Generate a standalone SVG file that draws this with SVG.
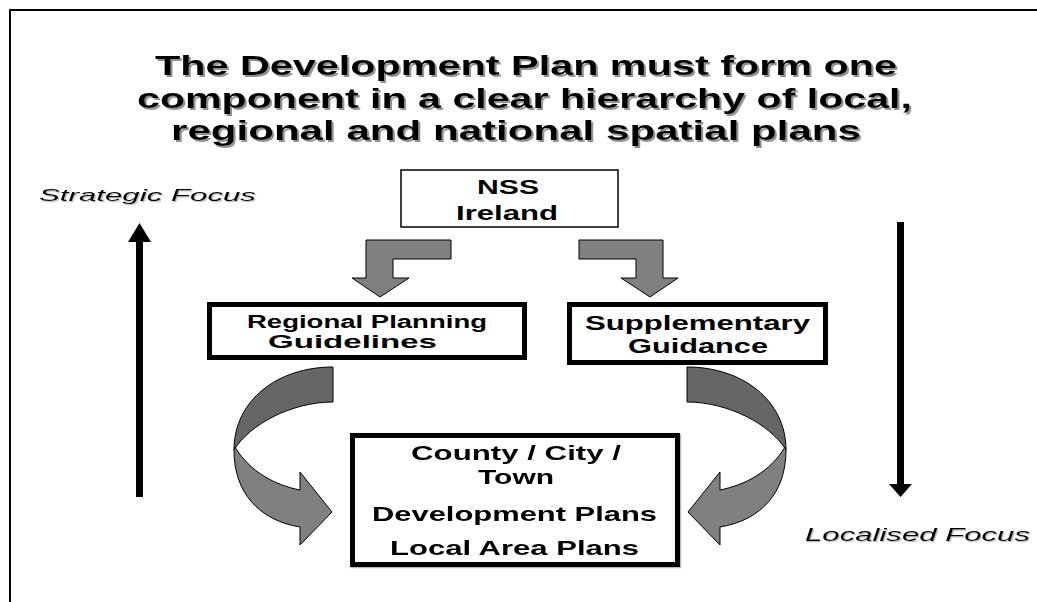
<svg xmlns="http://www.w3.org/2000/svg" width="1037" height="602" viewBox="0 0 1037 602">
<style>
.t{font-family:"Liberation Sans",Arial,sans-serif;font-weight:bold;fill:#000}
.i{font-family:"Liberation Sans",Arial,sans-serif;font-style:italic;fill:#000}
.box{fill:#fff;stroke:#000;stroke-width:5}
.bent{fill:#808080;stroke:#000;stroke-width:1}
.dk{fill:#666;stroke:#000;stroke-width:1}
.lt{fill:#808080;stroke:#000;stroke-width:1}
</style>
<defs>
<filter id="sh" x="-5%" y="-20%" width="110%" height="150%">
<feDropShadow dx="2" dy="2" stdDeviation="0.6" flood-color="#777" flood-opacity="0.8"/>
</filter>
<filter id="sh2" x="-5%" y="-20%" width="110%" height="150%">
<feDropShadow dx="1.2" dy="1.2" stdDeviation="0.5" flood-color="#999" flood-opacity="0.7"/>
</filter>
</defs>
<rect width="1037" height="602" fill="#fff"/>
<path d="M10,602 V10 H1037" fill="none" stroke="#000" stroke-width="2"/>
<g id="title" filter="url(#sh)">
<text class="t" font-size="28" x="155" y="75" textLength="742" lengthAdjust="spacingAndGlyphs">The Development Plan must form one</text>
<text class="t" font-size="28" x="137" y="108" textLength="775" lengthAdjust="spacingAndGlyphs">component in a clear hierarchy of local,</text>
<text class="t" font-size="28" x="171" y="140" textLength="690" lengthAdjust="spacingAndGlyphs">regional and national spatial plans</text>
</g>
<g id="strategic" filter="url(#sh2)">
<text class="i" font-size="17" x="39" y="201" textLength="217" lengthAdjust="spacingAndGlyphs">Strategic Focus</text>
</g>
<g id="localised" filter="url(#sh2)">
<text class="i" font-size="18" x="805" y="541" textLength="225" lengthAdjust="spacingAndGlyphs">Localised Focus</text>
</g>
<g id="nss">
<rect x="401" y="170" width="217" height="57" fill="#fff" stroke="#000" stroke-width="1.5"/>
<text class="t" font-size="20" x="477" y="194" textLength="62" lengthAdjust="spacingAndGlyphs">NSS</text>
<text class="t" font-size="20" x="456" y="220" textLength="102" lengthAdjust="spacingAndGlyphs">Ireland</text>
</g>
<g id="regional">
<rect class="box" x="209.5" y="304.5" width="315" height="53"/>
<text class="t" font-size="18" x="247" y="328" textLength="240" lengthAdjust="spacingAndGlyphs">Regional Planning</text>
<text class="t" font-size="18" x="268" y="348" textLength="169" lengthAdjust="spacingAndGlyphs">Guidelines</text>
</g>
<g id="supplementary">
<rect class="box" x="569.5" y="304.5" width="256" height="58"/>
<text class="t" font-size="20" x="585" y="330" textLength="225" lengthAdjust="spacingAndGlyphs">Supplementary</text>
<text class="t" font-size="20" x="628" y="353" textLength="140" lengthAdjust="spacingAndGlyphs">Guidance</text>
</g>
<g id="county" filter="url(#sh2)">
<rect class="box" x="352.5" y="435.5" width="325" height="129"/>
<text class="t" font-size="21" x="411" y="460" textLength="210" lengthAdjust="spacingAndGlyphs">County / City /</text>
<text class="t" font-size="21" x="478" y="484" textLength="76" lengthAdjust="spacingAndGlyphs">Town</text>
<text class="t" font-size="21" x="372" y="521" textLength="285" lengthAdjust="spacingAndGlyphs">Development Plans</text>
<text class="t" font-size="21" x="390" y="555" textLength="249" lengthAdjust="spacingAndGlyphs">Local Area Plans</text>
</g>
<g id="connectors">
<path d="M136,497 V242 H128 L139.5,223 L151,242 H143 V497 Z" fill="#000"/>
<path d="M897,222 V484 H889 L900.5,497 L912,484 H904 V222 Z" fill="#000"/>
<path class="bent" d="M366,240 H451 V259 H393 V278 H409 L380,297 L352,278 H366 Z"/>
<path class="bent" d="M579,240 H663 V278 H678 L650,297 L621,278 H636 V259 H579 Z"/>
<path class="dk" d="M333,367 C278,367 234,400 234,450 C250,424 292,402 333,402 Z"/>
<path class="lt" d="M235,447 C250,472 275,485 300,490 L300,472 L332,512 L300,545 L300,527 C258,520 234,492 234,450 Z"/>
<path class="dk" d="M687,367 C742,367 786,400 786,450 C770,424 728,402 687,402 Z"/>
<path class="lt" d="M785,447 C770,472 745,485 720,490 L720,472 L688,512 L720,545 L720,527 C762,520 786,492 786,450 Z"/>
</g>
</svg>
